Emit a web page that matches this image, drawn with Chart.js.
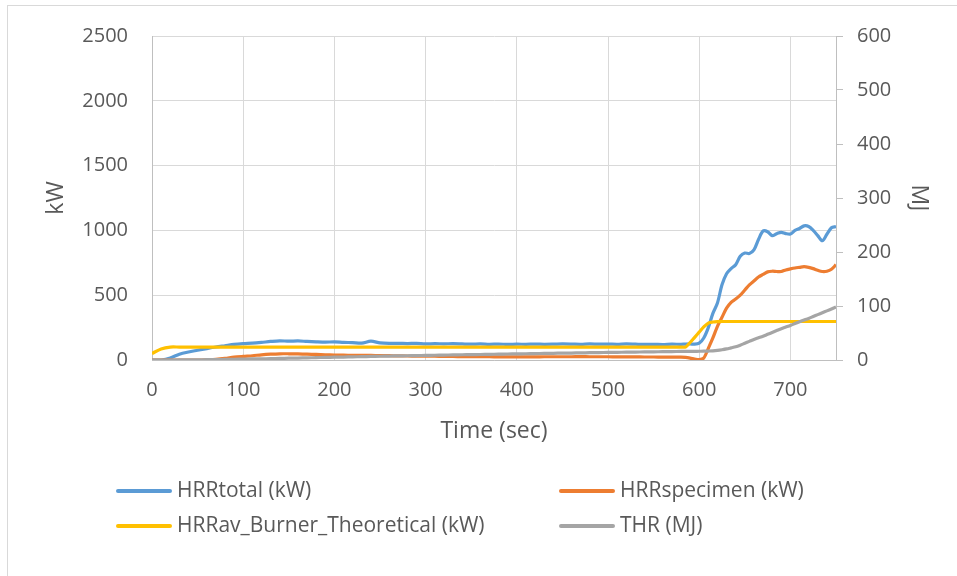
<!DOCTYPE html>
<html>
<head>
<meta charset="utf-8">
<script src="https://cdn.jsdelivr.net/npm/chart.js@4/dist/chart.umd.min.js"></script>
<style>
  body { margin: 0; background: #fff; }
  canvas { display: block; }
</style>
</head>
<body>
<canvas id="hrr" width="957" height="576"></canvas>
<script>
// time axis (sec)
var timeSec = [0,10,20,30,40,50,60,70,80,90,100,110,120,130,140,150,160,170,180,190,200,210,220,230,240,250,260,270,280,290,300,310,320,330,340,350,360,370,380,390,400,410,420,430,440,450,460,470,480,490,500,510,520,530,540,550,560,570,580,
  585,590,595,600,605,610,615,620,625,630,635,640,645,650,655,660,665,670,675,680,685,690,695,700,705,710,715,720,725,730,735,740,745,750];
var xTicks = [0,100,200,300,400,500,600,700];

// kW
var hrrTotal = [0,0,15,45,62,75,88,100,110,120,126,130,136,143,148,145,147,143,140,138,140,136,134,130,145,132,128,129,127,128,124,126,125,126,124,122,124,121,123,120,122,121,123,121,122,124,123,121,124,122,123,121,124,122,120,121,119,122,121,
  123,124,122,130,170,250,360,440,580,665,705,735,800,825,822,850,930,995,990,960,975,985,975,972,1000,1015,1035,1030,1000,960,920,970,1020,1030];

var hrrSpecimen = [0,0,0,0,0,0,2,5,12,22,28,33,40,45,48,48,47,45,43,40,38,37,36,35,35,34,33,32,31,30,30,29,28,27,26,25,25,25,24,24,24,24,24,25,25,25,25,26,25,25,25,24,24,24,23,23,22,22,22,
  20,15,8,3,15,90,170,260,330,400,445,470,500,540,580,610,640,660,680,685,683,683,695,703,710,715,720,715,705,692,683,685,700,735];

var hrrBurner = [50,85,100,100,100,100,100,100,100,100,100,100,100,100,100,100,100,100,100,100,100,100,100,100,100,100,100,100,100,100,100,100,100,100,100,100,100,100,100,100,100,100,100,100,100,100,100,100,100,100,100,100,100,100,100,100,100,100,100,
  100,135,175,215,255,285,293,296,297,297,297,297,297,297,297,297,297,297,297,297,297,297,297,297,297,297,297,297,297,297,297,297,297,297];

// MJ
var thr = [0,0,0,0.1,0.2,0.4,0.6,0.8,1,1.3,1.6,1.9,2.2,2.5,2.9,3.3,3.6,4,4.4,4.8,5.2,5.5,5.9,6.2,6.6,6.9,7.3,7.6,7.9,8.2,8.5,8.8,9.1,9.4,9.7,10,10.2,10.5,10.8,11.1,11.3,11.6,11.9,12.1,12.4,12.7,12.9,13.2,13.5,13.7,14,14.2,14.5,14.7,14.9,15.2,15.4,15.6,15.8,
  15.9,16,16.1,16.2,16.3,16.6,17,17.8,19,20.5,22.5,24.5,27.5,31,34.5,38,41,44,47.5,51,54.5,58,61,64,67.5,71,74,77,80.5,84,87.5,91,94.5,98];

var seriesNames = ['HRRtotal (kW)', 'HRRspecimen (kW)', 'HRRav_Burner_Theoretical (kW)', 'THR (MJ)'];
var seriesColors = ['#5B9BD5', '#ED7D31', '#FFC000', '#A5A5A5'];

function pts(vals) {
  return timeSec.map(function(t, i) { return {x: t, y: vals[i]}; });
}
function plain(v) { return String(v); }

var textColor = '#595959';
var fontFam = '"Open Sans", "Liberation Sans", sans-serif';

// excel-ish legend, two columns under the plot
var legendPlugin = {
  id: 'twoColLegend',
  beforeDraw: function(chart) {
    var ctx = chart.ctx;
    ctx.save();
    ctx.strokeStyle = '#d9d9d9';
    ctx.lineWidth = 1;
    ctx.strokeRect(7.5, 5.5, 1000, 1000);
    ctx.restore();
  },
  afterDraw: function(chart) {
    var ctx = chart.ctx;
    var cols = [118, 561];
    var rows = [491, 526];
    ctx.save();
    ctx.font = '21px ' + fontFam;
    ctx.textBaseline = 'middle';
    ctx.textAlign = 'left';
    chart.data.datasets.forEach(function(ds, i) {
      var x = cols[i % 2], y = rows[Math.floor(i / 2)];
      ctx.strokeStyle = ds.borderColor;
      ctx.lineWidth = 4;
      ctx.lineCap = 'round';
      ctx.beginPath();
      ctx.moveTo(x, y);
      ctx.lineTo(x + 52, y);
      ctx.stroke();
      ctx.fillStyle = textColor;
      ctx.fillText(ds.label, x + 59, y);
    });
    ctx.restore();
  }
};

var allSeries = [hrrTotal, hrrSpecimen, hrrBurner, thr];

new Chart(document.getElementById('hrr'), {
  type: 'line',
  data: {
    datasets: allSeries.map(function(vals, i) {
      return {
        label: seriesNames[i],
        data: pts(vals),
        borderColor: seriesColors[i],
        backgroundColor: seriesColors[i],
        borderWidth: 3.2,
        pointRadius: 0,
        tension: 0.3,
        fill: false,
        yAxisID: i === 3 ? 'y2' : 'y',
        order: 3 - i
      };
    })
  },
  plugins: [legendPlugin],
  options: {
    responsive: false,
    animation: false,
    layout: { padding: { top: 34, left: 39, right: 21, bottom: 127 } },
    plugins: {
      legend: { display: false },
      tooltip: { enabled: false }
    },
    scales: {
      x: {
        type: 'linear',
        min: 0,
        max: 750,
        afterBuildTicks: function(scale) {
          scale.ticks = xTicks.map(function(v) { return {value: v}; });
        },
        afterFit: function(scale) { scale.height = 89; },
        ticks: { color: textColor, font: { size: 20, family: fontFam }, padding: 18, maxRotation: 0, callback: plain },
        grid: { color: '#d9d9d9', drawTicks: false },
        border: { color: '#bfbfbf' },
        title: { display: true, text: 'Time (sec)', color: textColor, font: { size: 23, family: fontFam } }
      },
      y: {
        position: 'left',
        min: 0,
        max: 2500,
        afterFit: function(scale) { scale.width = 113; },
        ticks: { stepSize: 500, color: textColor, font: { size: 20, family: fontFam }, padding: 24, callback: plain },
        grid: { color: '#d9d9d9', drawTicks: false },
        border: { color: '#bfbfbf' },
        title: { display: true, text: 'kW', color: textColor, font: { size: 23, family: fontFam } }
      },
      y2: {
        position: 'right',
        min: 0,
        max: 600,
        afterFit: function(scale) { scale.width = 100; },
        ticks: { stepSize: 100, color: textColor, font: { size: 20, family: fontFam }, padding: 14, callback: plain },
        grid: { drawOnChartArea: false, drawTicks: true, tickLength: 7, color: '#bfbfbf' },
        border: { color: '#bfbfbf' },
        title: { display: true, text: 'MJ', color: textColor, font: { size: 23, family: fontFam } }
      }
    }
  }
});
</script>
</body>
</html>
